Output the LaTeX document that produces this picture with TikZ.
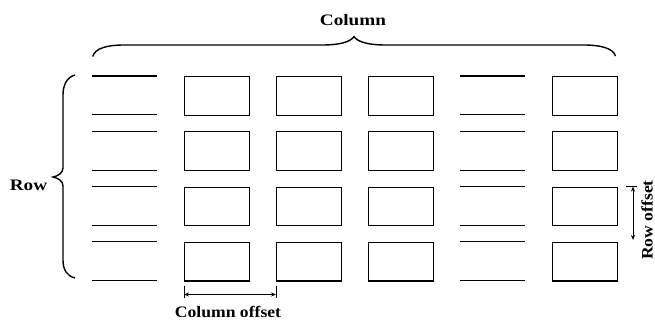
\documentclass[tikz,border=0pt]{standalone}
\usepackage{fontspec}
\usepackage{graphicx}
\setmainfont{Liberation Serif}
\usetikzlibrary{arrows.meta}
\begin{document}
\begin{tikzpicture}[x=1pt,y=-1pt,
  cell/.style={rectangle,minimum width=65pt,minimum height=38.5pt,inner sep=0pt,anchor=north west},
  boxcell/.style={cell,draw,line width=1.1pt},
  opencell/.style={cell},
  gridline/.style={line width=1.1pt},
  bracestyle/.style={line width=1.4pt},
  dimline/.style={line width=1pt},
  dimarrow/.style={line width=1pt,{Stealth[length=5pt,width=4pt]}-{Stealth[length=5pt,width=4pt]}},
  lbl/.style={font=\fontsize{16}{18}\selectfont\bfseries,inner sep=0pt}]
\useasboundingbox (0,0) rectangle (655,321);
% grid of cells
\foreach \i in {0,...,5}{
  \foreach \j in {0,...,3}{
    \pgfmathsetmacro{\xx}{92+92*\i}
    \pgfmathsetmacro{\yy}{76+55.3*\j}
    \ifnum\i=0
      \node[opencell] (c\i r\j) at (\xx,\yy) {};
      \draw[gridline] (c\i r\j.north west) -- (c\i r\j.north east);
      \draw[gridline] (c\i r\j.south west) -- (c\i r\j.south east);
    \else\ifnum\i=4
      \node[opencell] (c\i r\j) at (\xx,\yy) {};
      \draw[gridline] (c\i r\j.north west) -- (c\i r\j.north east);
      \draw[gridline] (c\i r\j.south west) -- (c\i r\j.south east);
    \else
      \node[boxcell] (c\i r\j) at (\xx,\yy) {};
    \fi\fi
  }
}
% column brace
\draw[bracestyle] (92.7,56.5) .. controls (95,48) and (108,45) .. (124,45) -- (322,45)
  .. controls (340,45) and (350,42) .. (354,36.7)
  .. controls (358,42) and (368,45) .. (386,45) -- (584,45)
  .. controls (600,45) and (613,48) .. (615.5,56);
\node[lbl,anchor=base] (collbl) at (353,25.7) {\scalebox{1.2}[1]{Column}};
% row brace
\draw[bracestyle] (75,75) .. controls (67,77) and (63,85) .. (63,95) -- (63,168)
  .. controls (63,173) and (58,176) .. (53,177)
  .. controls (58,178) and (63,181) .. (63,186) -- (63,260)
  .. controls (63,270) and (67,276) .. (75,278);
\node[lbl,anchor=base] (rowlbl) at (28.5,190) {\scalebox{1.2}[1]{Row}};
% column offset
\coordinate (coA) at ([yshift=-4pt]c1r3.south west);
\coordinate (coB) at ([yshift=-4pt]c2r3.south west);
\draw[dimline] (coA) -- ++(0,12);
\draw[dimline] (coB) -- ++(0,12);
\draw[dimarrow] ([yshift=-9pt]coA) -- ([yshift=-9pt]coB);
\node[lbl,anchor=base] (colofflbl) at (228,317.5) {\scalebox{1.1}[1]{Column offset}};
% row offset
\coordinate (roA) at ([xshift=8pt]c5r2.north east);
\draw[dimline] (roA) -- ++(11,0);
\draw[dimarrow] (633,186.6) -- (633,240);
\node[lbl,anchor=base,rotate=90] (rowofflbl) at (652.5,220) {\scalebox{1.1}[1]{Row offset}};
\end{tikzpicture}
\end{document}
